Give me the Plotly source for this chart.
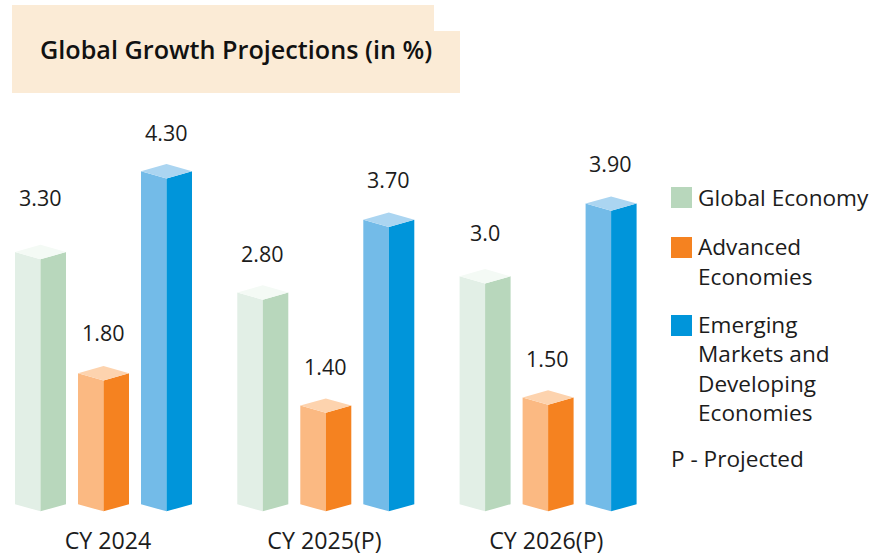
import plotly.graph_objects as go

FONT = "Open Sans"
TEXT = "#1c1c1c"
W, H, MB = 877, 555, 30

categories = ["CY 2024", "CY 2025(P)", "CY 2026(P)"]
global_economy = [3.30, 2.80, 3.00]
advanced = [1.80, 1.40, 1.50]
emerging = [4.30, 3.70, 3.90]
global_labels = ["3.30", "2.80", "3.0"]
advanced_labels = ["1.80", "1.40", "1.50"]
emerging_labels = ["4.30", "3.70", "3.90"]
title_text = "Global Growth Projections (in %)"

# axis calibration: value v sits at pixel 518.7 - 80.8 v; one group = 222.3 px
PX_PER_V = 80.8
Y0 = 518.7
PX_PER_G = 222.3
X0 = 103.5
BASE = 0.18
DV = 7.2 / PX_PER_V
HALF = 25.5 / PX_PER_G
STEP = 63 / PX_PER_G


def px(x):
    return x / W


def py(y):
    return 1 - y / (H - MB)


series = [
    ("Global Economy", global_economy, global_labels, -1, "#E2EFE6", "#B8D7BC", "#F4FAF5"),
    ("Advanced Economies", advanced, advanced_labels, 0, "#FBB982", "#F58220", "#FDD3AE"),
    ("Emerging Markets and Developing Economies", emerging, emerging_labels, 1, "#73BBE8", "#0095DA", "#ABD5F1"),
]


def face(xs, ys, color, name):
    return go.Scatter(x=xs, y=ys, fill="toself", fillcolor=color, mode="lines",
                      line=dict(width=0, color=color), name=name,
                      hoverinfo="skip", showlegend=False)


fig = go.Figure()
annotations = []
label_lift = {"3.30": 55, "3.0": 44, "1.80": 41, "3.70": 40, "3.90": 40}
for name, values, labels, slot, c_left, c_right, c_top in series:
    lx, ly, rx, ry, tx, ty = [], [], [], [], [], []
    for g, (v, lab) in enumerate(zip(values, labels)):
        c = g + slot * STEP
        lx += [c - HALF, c, c, c - HALF, c - HALF, None]
        ly += [BASE, BASE - DV, v - DV, v, BASE, None]
        rx += [c, c + HALF, c + HALF, c, c, None]
        ry += [BASE - DV, BASE, v, v - DV, BASE - DV, None]
        tx += [c - HALF, c, c + HALF, c, c - HALF, None]
        ty += [v, v + DV, v, v - DV, v, None]
        annotations.append(dict(x=c - 0.002, y=v, xref="x", yref="y", text=lab, showarrow=False,
                                yshift=label_lift.get(lab, 39), xanchor="center", yanchor="middle",
                                font=dict(family=FONT, size=21.5, color=TEXT)))
    fig.add_trace(face(lx, ly, c_left, name + " left"))
    fig.add_trace(face(rx, ry, c_right, name + " right"))
    fig.add_trace(face(tx, ty, c_top, name + " top"))

shapes = [
    dict(type="rect", xref="paper", yref="paper", x0=px(12), x1=px(434), y0=py(31), y1=py(5),
         fillcolor="#FBEBD6", line_width=0, layer="below"),
    dict(type="rect", xref="paper", yref="paper", x0=px(12), x1=px(460), y0=py(93), y1=py(31),
         fillcolor="#FBEBD6", line_width=0, layer="below"),
]
for top, color in [(187, "#B8D7BC"), (237, "#F58220"), (315, "#0095DA")]:
    shapes.append(dict(type="rect", xref="paper", yref="paper", x0=px(671), x1=px(692),
                       y0=py(top + 21), y1=py(top), fillcolor=color, line_width=0))

annotations.append(dict(x=px(38), y=py(49), xref="paper", yref="paper", text=title_text, showarrow=False,
                        xanchor="left", yanchor="middle",
                        font=dict(family=FONT, size=25.2, color="#111111", weight=600)))

legend_lines = [
    ("Global Economy", 696, 197), ("Advanced", 696, 246), ("Economies", 696, 276),
    ("Emerging", 696, 324), ("Markets and", 696, 353), ("Developing", 696, 383),
    ("Economies", 696, 412), ("P - Projected", 669, 458),
]
for txt, x, y in legend_lines:
    annotations.append(dict(x=px(x), y=py(y), xref="paper", yref="paper", text=txt, showarrow=False,
                            xanchor="left", yanchor="middle",
                            font=dict(family=FONT, size=22.6, color=TEXT)))

fig.update_layout(
    width=W, height=H, margin=dict(l=0, r=0, t=0, b=MB, pad=0),
    paper_bgcolor="white", plot_bgcolor="white", showlegend=False,
    shapes=shapes, annotations=annotations,
    xaxis=dict(range=[-X0 / PX_PER_G, (W - X0) / PX_PER_G], showgrid=False, zeroline=False,
               showline=False, ticks="", tickmode="array", tickvals=[0.02, 0.994, 1.992], ticktext=categories,
               tickfont=dict(family=FONT, size=23.2, color=TEXT)),
    yaxis=dict(range=[(Y0 - (H - MB)) / PX_PER_V, Y0 / PX_PER_V], showgrid=False, zeroline=False,
               showline=False, showticklabels=False, ticks=""),
)
fig.write_html("out.html", config=dict(displayModeBar=False),
               post_script="document.documentElement.style.overflow='hidden';document.body.style.margin='0';")
